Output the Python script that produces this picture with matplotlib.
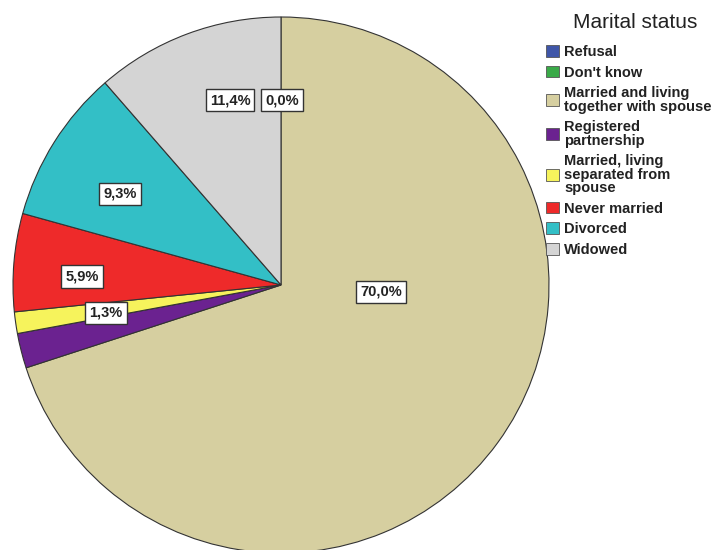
import matplotlib
matplotlib.use("Agg")
import matplotlib.pyplot as plt

# Marital status shares (percent), in drawing order clockwise from 12 o'clock
categories = ["Refusal", "Don't know", "Married and living\ntogether with spouse",
              "Registered\npartnership", "Married, living\nseparated from\nspouse",
              "Never married", "Divorced", "Widowed"]
shares = [0.0, 0.0, 70.0, 2.1, 1.3, 5.9, 9.3, 11.4]
colors = ["#3f56a8", "#3aaa48", "#d6cfa0", "#6b2290", "#f6f35c",
          "#ee2a2a", "#33bfc6", "#d4d4d4"]

# visible labels (text, position in pie units)
label_text = ["70,0%", "1,3%", "5,9%", "9,3%", "11,4%", "0,0%"]
label_pos = [(0.373, -0.026), (-0.653, -0.103), (-0.743, 0.032),
             (-0.601, 0.341), (-0.190, 0.690), (0.004, 0.690)]

plt.rcParams['font.family'] = ['Liberation Sans', 'DejaVu Sans']

fig = plt.figure(figsize=(7.23, 5.5), dpi=100)
ax = fig.add_axes([13 / 723, -3 / 550, 536 / 723, 536 / 550])
ax.pie(shares, colors=colors, startangle=90, counterclock=False,
       wedgeprops=dict(edgecolor="#333333", linewidth=0.8))
ax.set_xlim(-1, 1)
ax.set_ylim(-1, 1)
ax.set_aspect("equal")

for txt, (x, y) in zip(label_text, label_pos):
    ax.text(x, y, txt, ha="center", va="center", fontsize=10.5, fontweight="bold",
            color="#222222",
            bbox=dict(boxstyle="square,pad=0.28", fc="white", ec="#333333", lw=1.0))

fig.text(635 / 723, 1 - 22 / 550, "Marital status", ha="center", va="center",
         fontsize=15, color="#222222")

handles = [plt.Rectangle((0, 0), 1, 1, fc=c, ec="#555555", lw=0.6) for c in colors]
leg = fig.legend(handles, categories, loc="upper left",
                 bbox_to_anchor=(546 / 723, 1 - 45 / 550), frameon=False,
                 prop=dict(size=10.5, weight="bold"),
                 handlelength=0.9, handleheight=0.85, handletextpad=0.35,
                 labelspacing=0.45, borderaxespad=0, borderpad=0)
for t in leg.get_texts():
    t.set_color("#222222")
    t.set_linespacing(0.95)

fig.savefig("out.png", dpi=100)
